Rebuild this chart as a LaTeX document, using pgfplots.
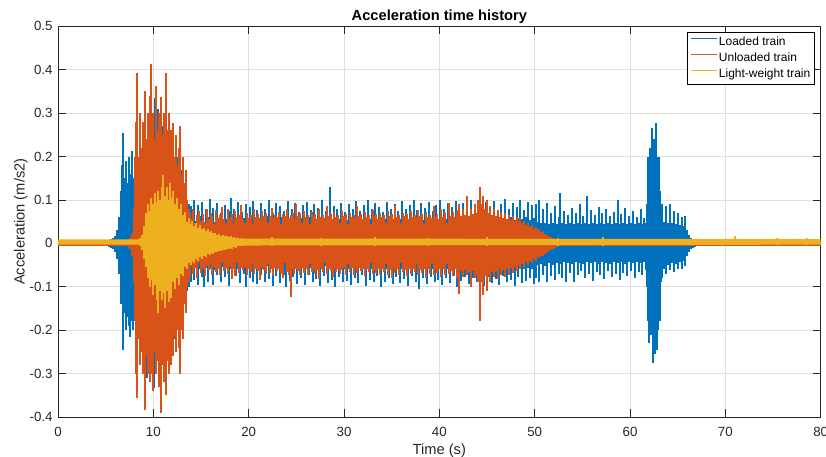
\documentclass[border=0pt]{standalone}
\usepackage{fontspec}
\setmainfont{Liberation Sans}
\usepackage{pgfplots}
\usepackage{pgfplotstable}
\pgfplotsset{compat=1.18}
\definecolor{cBlue}{RGB}{0,114,189}
\definecolor{cOrange}{RGB}{217,83,25}
\definecolor{cYellow}{RGB}{237,177,32}
\definecolor{axgray}{RGB}{38,38,38}
\definecolor{gridgray}{RGB}{223,223,223}

% Loaded train: envelope upper (u) / lower (l)
\pgfplotstableread{
t u l
5.0 0.004 -0.006
5.2 0.006 -0.006
5.4 0.007 -0.008
5.6 0.009 -0.010
5.8 0.012 -0.014
6.0 0.018 -0.020
6.2 0.030 -0.035
6.4 0.060 -0.070
6.6 0.120 -0.140
6.7 0.180 -0.120
6.84 0.255 -0.245
6.95 0.150 -0.160
7.1 0.190 -0.200
7.25 0.140 -0.170
7.4 0.200 -0.190
7.55 0.160 -0.215
7.73 0.213 -0.180
7.9 0.150 -0.200
8.05 0.190 -0.170
8.2 0.170 -0.190
8.4 0.200 -0.200
8.6 0.180 -0.220
8.8 0.210 -0.190
9.0 0.190 -0.230
9.2 0.220 -0.240
9.3 0.200 -0.310
9.4 0.240 -0.200
9.6 0.320 -0.250
9.8 0.220 -0.220
10.0 0.260 -0.250
10.1 0.200 -0.333
10.2 0.335 -0.240
10.4 0.240 -0.270
10.5 0.310 -0.220
10.7 0.220 -0.300
10.9 0.270 -0.250
11.1 0.210 -0.300
11.3 0.290 -0.220
11.5 0.200 -0.270
11.7 0.240 -0.200
11.9 0.180 -0.240
12.1 0.220 -0.200
12.3 0.170 -0.220
12.5 0.200 -0.180
12.7 0.150 -0.200
12.9 0.170 -0.160
13.1 0.130 -0.150
13.3 0.140 -0.120
13.5 0.100 -0.110
13.7 0.090 -0.100
13.9 0.085 -0.090
14.1 0.058 -0.062
14.3 0.100 -0.085
14.5 0.052 -0.055
14.7 0.088 -0.095
14.9 0.062 -0.058
15.1 0.095 -0.078
15.3 0.050 -0.100
15.5 0.078 -0.056
15.7 0.060 -0.088
15.9 0.102 -0.060
16.1 0.055 -0.052
16.3 0.082 -0.096
16.5 0.050 -0.062
16.7 0.092 -0.072
16.9 0.058 -0.050
17.1 0.070 -0.090
17.3 0.052 -0.055
17.5 0.088 -0.078
17.7 0.056 -0.050
17.9 0.074 -0.098
18.1 0.105 -0.060
18.3 0.054 -0.082
18.5 0.080 -0.052
18.7 0.060 -0.076
18.9 0.096 -0.058
19.1 0.052 -0.092
19.3 0.072 -0.054
19.5 0.058 -0.070
19.7 0.090 -0.100
19.9 0.055 -0.058
20.1 0.084 -0.080
20.3 0.060 -0.052
20.5 0.098 -0.088
20.7 0.054 -0.060
20.9 0.076 -0.094
21.1 0.058 -0.055
21.3 0.092 -0.074
21.5 0.052 -0.058
21.7 0.080 -0.090
21.9 0.062 -0.052
22.1 0.100 -0.082
22.3 0.055 -0.060
22.5 0.070 -0.098
22.7 0.058 -0.056
22.9 0.094 -0.076
23.1 0.052 -0.054
23.3 0.086 -0.092
23.5 0.060 -0.058
23.7 0.074 -0.072
23.9 0.056 -0.100
24.1 0.098 -0.056
24.3 0.054 -0.086
24.5 0.080 -0.060
24.7 0.060 -0.078
24.9 0.092 -0.054
25.1 0.056 -0.094
25.3 0.072 -0.058
25.5 0.058 -0.080
25.7 0.088 -0.052
25.9 0.054 -0.096
26.1 0.096 -0.060
26.3 0.060 -0.074
26.5 0.076 -0.056
26.7 0.056 -0.090
26.9 0.090 -0.058
27.1 0.054 -0.082
27.3 0.082 -0.054
27.5 0.058 -0.098
27.7 0.100 -0.060
27.9 0.056 -0.076
28.1 0.074 -0.052
28.3 0.060 -0.092
28.5 0.130 -0.058
28.7 0.054 -0.084
28.9 0.086 -0.056
29.1 0.058 -0.100
29.3 0.078 -0.060
29.5 0.056 -0.078
29.7 0.094 -0.054
29.9 0.060 -0.090
30.1 0.072 -0.058
30.3 0.054 -0.086
30.5 0.090 -0.060
30.7 0.058 -0.096
30.9 0.080 -0.054
31.1 0.056 -0.080
31.3 0.098 -0.058
31.5 0.060 -0.092
31.7 0.074 -0.056
31.9 0.054 -0.074
32.1 0.088 -0.060
32.3 0.058 -0.098
32.5 0.100 -0.054
32.7 0.056 -0.084
32.9 0.078 -0.058
33.1 0.060 -0.090
33.3 0.092 -0.056
33.5 0.054 -0.076
33.7 0.084 -0.060
33.9 0.058 -0.100
34.1 0.072 -0.054
34.3 0.056 -0.088
34.5 0.096 -0.058
34.7 0.060 -0.080
34.9 0.080 -0.056
35.1 0.054 -0.094
35.3 0.090 -0.060
35.5 0.058 -0.078
35.7 0.074 -0.054
35.9 0.056 -0.092
36.1 0.098 -0.058
36.3 0.060 -0.082
36.5 0.078 -0.056
36.7 0.054 -0.098
36.9 0.088 -0.060
37.1 0.058 -0.076
37.3 0.100 -0.054
37.5 0.056 -0.090
37.7 0.076 -0.058
37.9 0.060 -0.105
38.1 0.092 -0.056
38.3 0.054 -0.080
38.5 0.082 -0.060
38.7 0.058 -0.094
38.9 0.096 -0.054
39.1 0.056 -0.078
39.3 0.074 -0.058
39.5 0.060 -0.090
39.7 0.088 -0.056
39.9 0.054 -0.084
40.1 0.100 -0.060
40.3 0.058 -0.096
40.5 0.078 -0.054
40.7 0.056 -0.080
40.9 0.092 -0.058
41.1 0.060 -0.092
41.3 0.084 -0.056
41.5 0.054 -0.076
41.7 0.098 -0.060
41.9 0.058 -0.100
42.1 0.076 -0.054
42.3 0.056 -0.086
42.5 0.094 -0.058
42.7 0.060 -0.078
42.9 0.082 -0.056
43.1 0.054 -0.094
43.3 0.100 -0.060
43.5 0.058 -0.080
43.7 0.078 -0.054
43.9 0.056 -0.090
44.1 0.092 -0.058
44.3 0.060 -0.084
44.5 0.086 -0.056
44.7 0.054 -0.098
44.9 0.096 -0.060
45.1 0.058 -0.078
45.3 0.080 -0.054
45.5 0.056 -0.092
45.7 0.098 -0.058
45.9 0.060 -0.082
46.1 0.076 -0.056
46.3 0.054 -0.096
46.5 0.090 -0.060
46.7 0.058 -0.076
46.9 0.102 -0.054
47.1 0.056 -0.090
47.3 0.078 -0.058
47.5 0.060 -0.084
47.7 0.094 -0.056
47.9 0.054 -0.098
48.1 0.084 -0.060
48.3 0.058 -0.078
48.5 0.100 -0.054
48.7 0.056 -0.092
48.9 0.076 -0.058
49.1 0.060 -0.086
49.3 0.096 -0.056
49.5 0.054 -0.080
49.7 0.088 -0.060
49.9 0.058 -0.094
50.1 0.090 -0.080
50.3 0.050 -0.050
50.5 0.100 -0.090
50.7 0.046 -0.048
50.9 0.080 -0.072
51.1 0.048 -0.052
51.3 0.094 -0.088
51.5 0.044 -0.046
51.7 0.070 -0.076
51.9 0.048 -0.050
52.1 0.086 -0.084
52.3 0.044 -0.046
52.5 0.060 -0.070
52.7 0.116 -0.048
52.9 0.046 -0.080
53.1 0.074 -0.044
53.3 0.044 -0.088
53.5 0.066 -0.046
53.7 0.046 -0.068
53.9 0.082 -0.048
54.1 0.044 -0.090
54.3 0.070 -0.044
54.5 0.048 -0.072
54.7 0.090 -0.046
54.9 0.044 -0.064
55.1 0.064 -0.048
55.3 0.046 -0.080
55.5 0.108 -0.044
55.7 0.044 -0.070
55.9 0.076 -0.046
56.1 0.048 -0.086
56.3 0.066 -0.044
56.5 0.044 -0.066
56.7 0.084 -0.048
56.9 0.046 -0.074
57.1 0.070 -0.044
57.3 0.044 -0.082
57.5 0.078 -0.046
57.7 0.046 -0.064
57.9 0.064 -0.048
58.1 0.044 -0.078
58.3 0.072 -0.044
58.5 0.048 -0.070
58.7 0.100 -0.046
58.9 0.044 -0.084
59.1 0.068 -0.044
59.3 0.046 -0.068
59.5 0.082 -0.048
59.7 0.044 -0.076
59.9 0.062 -0.044
60.1 0.046 -0.064
60.3 0.074 -0.046
60.5 0.044 -0.080
60.7 0.060 -0.044
60.9 0.046 -0.066
61.1 0.078 -0.046
61.3 0.044 -0.072
61.5 0.058 -0.044
61.7 0.046 -0.062
61.8 0.090 -0.100
61.9 0.200 -0.180
62.0 0.150 -0.230
62.1 0.220 -0.160
62.2 0.180 -0.210
62.3 0.265 -0.190
62.4 0.200 -0.276
62.5 0.240 -0.220
62.6 0.210 -0.255
62.75 0.278 -0.240
62.85 0.200 -0.245
62.95 0.170 -0.200
63.05 0.200 -0.150
63.15 0.120 -0.180
63.25 0.070 -0.090
63.4 0.090 -0.080
63.6 0.050 -0.060
63.8 0.085 -0.070
64.0 0.048 -0.050
64.2 0.090 -0.062
64.4 0.046 -0.046
64.6 0.075 -0.066
64.8 0.045 -0.048
65.0 0.070 -0.060
65.2 0.042 -0.044
65.4 0.060 -0.058
65.6 0.040 -0.040
65.8 0.062 -0.052
66.0 0.030 -0.030
66.2 0.020 -0.020
66.4 0.012 -0.012
66.6 0.008 -0.010
66.8 0.006 -0.008
}\bluetab

% Unloaded train
\pgfplotstableread{
t u l
7.2 0.006 -0.006
7.4 0.008 -0.008
7.6 0.012 -0.012
7.8 0.025 -0.030
8.0 0.080 -0.090
8.1 0.200 -0.180
8.2 0.280 -0.300
8.33 0.393 -0.356
8.45 0.200 -0.220
8.6 0.300 -0.280
8.75 0.220 -0.250
8.9 0.280 -0.300
9.0 0.200 -0.220
9.13 0.352 -0.384
9.25 0.240 -0.260
9.4 0.300 -0.300
9.5 0.220 -0.240
9.65 0.340 -0.320
9.76 0.413 -0.300
9.9 0.250 -0.260
10.0 0.300 -0.340
10.1 0.240 -0.250
10.3 0.363 -0.300
10.45 0.260 -0.270
10.6 0.300 -0.330
10.8 0.338 -0.390
10.95 0.250 -0.280
11.1 0.300 -0.320
11.2 0.240 -0.250
11.33 0.392 -0.350
11.45 0.260 -0.270
11.6 0.300 -0.300
11.75 0.220 -0.220
11.9 0.260 -0.280
12.07 0.277 -0.260
12.2 0.200 -0.210
12.35 0.250 -0.250
12.5 0.180 -0.200
12.65 0.220 -0.240
12.8 0.270 -0.300
12.95 0.160 -0.200
13.1 0.200 -0.220
13.25 0.140 -0.140
13.4 0.170 -0.160
13.55 0.100 -0.100
13.7 0.080 -0.090
13.8 0.070 -0.075
14.0 0.055 -0.052
14.2 0.080 -0.070
14.4 0.048 -0.056
14.6 0.066 -0.080
14.8 0.075 -0.046
15.0 0.052 -0.068
15.2 0.068 -0.058
15.4 0.046 -0.075
15.6 0.078 -0.052
15.8 0.056 -0.062
16.0 0.070 -0.046
16.2 0.062 -0.072
16.4 0.044 -0.054
16.6 0.076 -0.066
16.8 0.058 -0.058
17.0 0.066 -0.074
17.2 0.084 -0.045
17.4 0.056 -0.064
17.6 0.048 -0.056
17.8 0.080 -0.070
18.0 0.058 -0.054
18.2 0.068 -0.082
18.4 0.045 -0.058
18.6 0.074 -0.076
18.8 0.060 -0.046
19.0 0.066 -0.068
19.2 0.088 -0.056
19.4 0.056 -0.062
19.6 0.047 -0.054
19.8 0.070 -0.072
20.0 0.058 -0.058
20.2 0.066 -0.066
20.4 0.044 -0.047
20.6 0.078 -0.070
20.8 0.060 -0.060
21.0 0.068 -0.064
21.2 0.056 -0.084
21.4 0.074 -0.056
21.6 0.062 -0.062
21.8 0.070 -0.070
22.0 0.046 -0.048
22.2 0.064 -0.068
22.4 0.082 -0.060
22.6 0.058 -0.074
22.8 0.066 -0.056
23.0 0.060 -0.064
23.2 0.072 -0.058
23.4 0.045 -0.070
23.6 0.068 -0.080
23.8 0.062 -0.046
24.0 0.078 -0.066
24.2 0.058 -0.072
24.4 0.066 -0.124
24.6 0.070 -0.060
24.8 0.056 -0.070
25.0 0.090 -0.058
25.2 0.062 -0.064
25.4 0.070 -0.072
25.6 0.048 -0.056
25.8 0.074 -0.068
26.0 0.060 -0.060
26.2 0.066 -0.074
26.4 0.044 -0.048
26.6 0.072 -0.066
26.8 0.062 -0.058
27.0 0.068 -0.070
27.2 0.056 -0.062
27.4 0.080 -0.082
27.6 0.060 -0.056
27.8 0.066 -0.066
28.0 0.058 -0.046
28.2 0.086 -0.070
28.4 0.062 -0.060
28.6 0.068 -0.064
28.8 0.056 -0.078
29.0 0.072 -0.056
29.2 0.060 -0.066
29.4 0.066 -0.058
29.6 0.046 -0.070
29.8 0.074 -0.062
30.0 0.062 -0.056
30.2 0.068 -0.072
30.4 0.045 -0.047
30.6 0.070 -0.066
30.8 0.060 -0.056
31.0 0.066 -0.074
31.2 0.058 -0.062
31.4 0.085 -0.068
31.6 0.062 -0.056
31.8 0.068 -0.064
32.0 0.056 -0.058
32.2 0.072 -0.076
32.4 0.060 -0.060
32.6 0.066 -0.066
32.8 0.044 -0.046
33.0 0.076 -0.070
33.2 0.062 -0.062
33.4 0.068 -0.068
33.6 0.056 -0.058
33.8 0.070 -0.074
34.0 0.060 -0.060
34.2 0.066 -0.066
34.4 0.048 -0.047
34.6 0.074 -0.072
34.8 0.062 -0.062
35.0 0.068 -0.080
35.2 0.056 -0.058
35.4 0.087 -0.068
35.6 0.060 -0.060
35.8 0.066 -0.072
36.0 0.046 -0.046
36.2 0.070 -0.066
36.4 0.062 -0.062
36.6 0.068 -0.076
36.8 0.056 -0.058
37.0 0.074 -0.070
37.2 0.060 -0.060
37.4 0.066 -0.066
37.6 0.058 -0.048
37.8 0.076 -0.072
38.0 0.062 -0.062
38.2 0.068 -0.068
38.4 0.045 -0.058
38.6 0.072 -0.080
38.8 0.060 -0.060
39.0 0.066 -0.070
39.2 0.058 -0.046
39.4 0.085 -0.074
39.6 0.062 -0.062
39.8 0.068 -0.068
40.0 0.056 -0.058
40.2 0.080 -0.078
40.4 0.060 -0.060
40.6 0.070 -0.072
40.8 0.046 -0.048
41.0 0.092 -0.070
41.2 0.062 -0.064
41.4 0.072 -0.076
41.6 0.060 -0.060
41.8 0.076 -0.080
42.0 0.064 -0.066
42.1 0.090 -0.117
42.3 0.062 -0.064
42.5 0.078 -0.078
42.7 0.066 -0.062
42.9 0.110 -0.074
43.1 0.064 -0.066
43.3 0.080 -0.100
43.5 0.068 -0.064
43.7 0.090 -0.080
43.9 0.070 -0.070
44.1 0.100 -0.090
44.2 0.085 -0.080
44.3 0.130 -0.180
44.4 0.090 -0.090
44.6 0.110 -0.120
44.8 0.080 -0.075
44.95 0.100 -0.110
45.1 0.070 -0.072
45.3 0.085 -0.090
45.5 0.066 -0.066
45.7 0.080 -0.078
45.9 0.062 -0.064
46.1 0.076 -0.082
46.3 0.060 -0.060
46.5 0.072 -0.074
46.7 0.058 -0.062
46.9 0.070 -0.078
47.1 0.056 -0.058
47.3 0.066 -0.072
47.5 0.054 -0.056
47.7 0.064 -0.068
47.9 0.052 -0.054
48.1 0.060 -0.064
48.3 0.050 -0.050
48.5 0.058 -0.060
48.7 0.046 -0.048
48.9 0.052 -0.056
49.1 0.042 -0.044
49.3 0.048 -0.050
49.5 0.038 -0.040
49.7 0.042 -0.046
49.9 0.034 -0.036
50.1 0.038 -0.040
50.3 0.030 -0.032
50.5 0.032 -0.034
50.7 0.026 -0.028
50.9 0.028 -0.030
51.1 0.022 -0.024
51.3 0.020 -0.022
51.5 0.016 -0.018
51.7 0.014 -0.016
51.9 0.012 -0.012
52.1 0.009 -0.010
52.3 0.008 -0.008
}\orangetab

% Light-weight train
\pgfplotstableread{
t u l
8.6 0.012 -0.006
8.8 0.020 -0.015
9.0 0.040 -0.035
9.2 0.070 -0.055
9.4 0.090 -0.080
9.6 0.075 -0.100
9.8 0.105 -0.085
10.0 0.090 -0.120
10.2 0.115 -0.095
10.4 0.095 -0.130
10.5 0.120 -0.160
10.7 0.100 -0.110
10.9 0.130 -0.130
11.0 0.157 -0.115
11.2 0.110 -0.150
11.4 0.130 -0.110
11.6 0.100 -0.135
11.75 0.140 -0.100
11.9 0.105 -0.125
12.1 0.120 -0.090
12.3 0.090 -0.105
12.5 0.105 -0.080
12.7 0.080 -0.095
12.9 0.090 -0.070
13.1 0.065 -0.075
13.3 0.072 -0.055
13.5 0.050 -0.058
13.7 0.058 -0.045
13.9 0.045 -0.050
14.1 0.052 -0.040
14.3 0.040 -0.045
14.5 0.046 -0.035
14.7 0.036 -0.040
14.9 0.042 -0.032
15.1 0.032 -0.036
15.3 0.036 -0.028
15.5 0.029 -0.031
15.7 0.032 -0.025
15.9 0.026 -0.027
16.1 0.028 -0.022
16.3 0.023 -0.024
16.5 0.025 -0.019
16.7 0.020 -0.021
16.9 0.022 -0.017
17.1 0.018 -0.018
17.3 0.020 -0.015
17.5 0.016 -0.016
17.7 0.018 -0.013
17.9 0.015 -0.014
18.1 0.016 -0.011
18.3 0.013 -0.012
18.5 0.015 -0.009
18.7 0.012 -0.010
18.9 0.013 -0.007
19.1 0.011 -0.007
19.3 0.012 -0.006
22.4 0.014 -0.005
27.6 0.013 -0.005
33.2 0.014 -0.006
38.8 0.013 -0.005
45.0 0.014 -0.006
52.4 0.013 -0.005
57.2 0.014 -0.005
71.0 0.016 -0.004
75.4 0.013 -0.004
78.6 0.013 -0.004
}\yellowtab

\begin{document}
\begin{tikzpicture}
\begin{axis}[
  scale only axis, width=762.7pt, height=390.7pt,
  xmin=0, xmax=80, ymin=-0.4, ymax=0.5,
  xtick={0,10,20,30,40,50,60,70,80},
  xticklabels={0,10,20,30,40,50,60,70,80},
  ytick={-0.4,-0.3,-0.2,-0.1,0,0.1,0.2,0.3,0.4,0.5},
  yticklabels={-0.4,-0.3,-0.2,-0.1,0,0.1,0.2,0.3,0.4,0.5},
  tick align=inside, tick pos=both, major tick length=7.6pt,
  axis line style={draw=axgray, line width=0.6pt},
  major tick style={draw=axgray, line width=0.6pt},
  grid=major, grid style={draw=gridgray, line width=0.6pt},
  ticklabel style={font=\fontsize{13.3}{15}\selectfont, text=axgray},
  xticklabel style={anchor=base, inner sep=0pt, yshift=-19pt},
  yticklabel style={anchor=east, inner sep=0pt, xshift=-5.3pt},
  every axis title/.style={at={(axis description cs:0.5,1.01433)}, anchor=base, font=\bfseries\fontsize{14.67}{17}\selectfont},
  title={Acceleration time history},
  every axis x label/.style={at={(axis description cs:0.5,-0.09726)}, anchor=base, font=\fontsize{14.67}{17}\selectfont, text=axgray},
  every axis y label/.style={at={(axis description cs:-0.04366,0.5)}, rotate=90, anchor=base, font=\fontsize{14.67}{17}\selectfont, text=axgray},
  xlabel={Time (s)}, ylabel={Acceleration (m/s2)},
  legend style={at={(axis description cs:1,1)}, anchor=north east, xshift=-6.7pt, yshift=-6pt,
    inner sep=3.5pt, row sep=3.5pt, column sep=2pt,
    font=\fontsize{12}{14}\selectfont,
    nodes={inner sep=0pt, text height=9.5pt, text depth=3pt}},
  legend cell align=left,
]
% Loaded train
\addplot[fill=cBlue, draw=none, forget plot] coordinates {(0,0.003) (80,0.003) (80,-0.007) (0,-0.007)} -- cycle;
\addplot[ycomb, color=cBlue, line width=2pt, mark=none,
  legend image code/.code={\fill[fill=cBlue, draw=none] (0pt,3.2pt) rectangle (26pt,3.9pt);}] table[x=t,y=u] {\bluetab};
\addlegendentry{Loaded train}
\addplot[ycomb, color=cBlue, line width=2pt, mark=none, forget plot] table[x=t,y=l] {\bluetab};
% Unloaded train
\addplot[fill=cOrange, draw=none, forget plot] coordinates {(0,0.004) (80,0.004) (80,-0.005) (0,-0.005)} -- cycle;
\addplot[ycomb, color=cOrange, line width=2pt, mark=none,
  legend image code/.code={\fill[fill=cOrange, draw=none] (0pt,3.2pt) rectangle (26pt,3.9pt);}] table[x=t,y=u] {\orangetab};
\addlegendentry{Unloaded train}
\addplot[ycomb, color=cOrange, line width=2pt, mark=none, forget plot] table[x=t,y=l] {\orangetab};
% Light-weight train
\addplot[fill=cYellow, draw=none, forget plot] coordinates {(0,0.009) (8.6,0.009) (19.3,0.011) (80,0.010) (80,-0.003) (19.3,-0.005) (8.6,-0.003) (0,-0.003)} -- cycle;
\addplot[ycomb, color=cYellow, line width=2pt, mark=none,
  legend image code/.code={\fill[fill=cYellow, draw=none] (0pt,3.2pt) rectangle (26pt,3.9pt);}] table[x=t,y=u] {\yellowtab};
\addlegendentry{Light-weight train}
\addplot[ycomb, color=cYellow, line width=2pt, mark=none, forget plot] table[x=t,y=l] {\yellowtab};
\end{axis}
\pgfresetboundingbox
\path (-58pt,-40pt) rectangle (768pt,417pt);
\end{tikzpicture}
\end{document}
